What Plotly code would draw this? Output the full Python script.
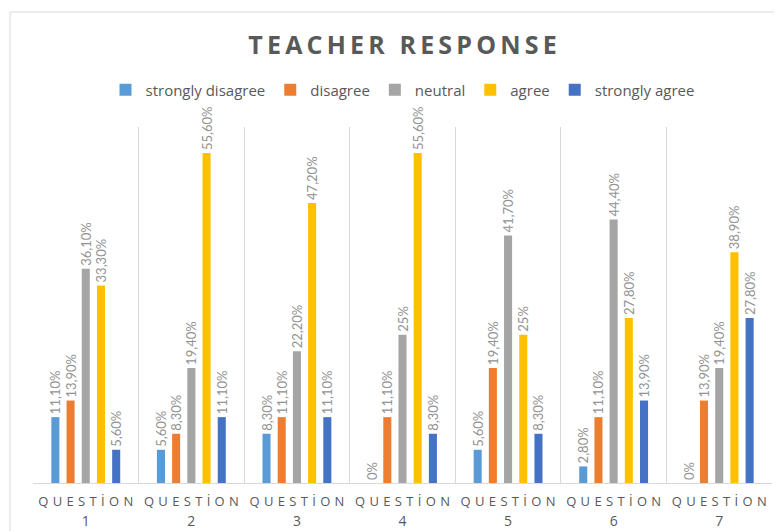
import plotly.graph_objects as go

categories = ["1", "2", "3", "4", "5", "6", "7"]
tick_word = "QUESTİON"
title_text = "TEACHER RESPONSE"
series_names = ["strongly disagree", "disagree", "neutral", "agree", "strongly agree"]
strongly_disagree = [11.1, 5.6, 8.3, 0, 5.6, 2.8, 0]
disagree = [13.9, 8.3, 11.1, 11.1, 19.4, 11.1, 13.9]
neutral = [36.1, 19.4, 22.2, 25, 41.7, 44.4, 19.4]
agree = [33.3, 55.6, 47.2, 55.6, 25, 27.8, 38.9]
strongly_agree = [5.6, 11.1, 11.1, 8.3, 8.3, 13.9, 27.8]
colors = ["#5B9BD5", "#ED7D31", "#A5A5A5", "#FFC000", "#4472C4"]


def fmt(v):
    if float(v).is_integer():
        return f"{int(v)}%"
    return f"{v:.2f}%".replace(".", ",")


def spread(word, sp):
    return sp.join(list(word))


ticktext = [f"<span style='font-size:13px'>{spread(tick_word, chr(0x2004))}</span><br>"
            f"<span style='font-size:14px'>{c}</span>" for c in categories]
title_spaced = spread(title_text, "\u2006")

# The page body adds an 8px offset; figure is sized/placed to compensate.
W, H = 774, 523
L, R, T, B = 25, 10, 119, 48
PW, PH = W - L - R, H - T - B

fig = go.Figure()
for name, vals, col in zip(series_names,
                           [strongly_disagree, disagree, neutral, agree, strongly_agree],
                           colors):
    fig.add_trace(go.Bar(
        name=name, x=categories, y=vals, marker=dict(color=col, line=dict(width=0)),
        text=[fmt(v) for v in vals], textposition="outside", textangle=-90,
        constraintext="none",
        textfont=dict(family="Lato", size=13, color="#939393"),
        cliponaxis=False,
    ))

fig.update_layout(
    width=W, height=H,
    paper_bgcolor="white", plot_bgcolor="white",
    margin=dict(l=L, r=R, t=T, b=B, autoexpand=False),
    barmode="group", bargap=0.28, bargroupgap=0.47,
    title=dict(text=f"<b>{title_spaced}</b>", x=0.5, xref="paper", xanchor="center",
               y=1 - 37 / H, yref="container", yanchor="middle",
               font=dict(family="Open Sans", size=25, color="#595959")),
    legend=dict(orientation="h", x=0.5, xanchor="center", y=(H - B - 82) / PH, yanchor="middle",
                font=dict(family="Open Sans", size=15, color="#595959"),
                itemwidth=30, traceorder="normal", bgcolor="rgba(0,0,0,0)"),
    showlegend=True,
)
fig.update_xaxes(type="category", tickson="boundaries", showgrid=True, gridcolor="#d9d9d9",
                 gridwidth=1, showline=True, linecolor="#d9d9d9", ticks="", automargin=False,
                 tickvals=categories, ticktext=ticktext, ticklabelstandoff=4,
                 tickfont=dict(family="Open Sans", size=15, color="#595959"))
fig.update_yaxes(range=[0, 60], visible=False, showgrid=False, zeroline=False)

fig.add_shape(type="rect", xref="paper", yref="paper",
              x0=(2 - L) / PW, x1=(773 - L) / PW,
              y0=(H - B - 530) / PH, y1=(H - B - 4) / PH,
              line=dict(color="#d9d9d9", width=1), fillcolor="rgba(0,0,0,0)", layer="below")

fig.write_html("out.html")
